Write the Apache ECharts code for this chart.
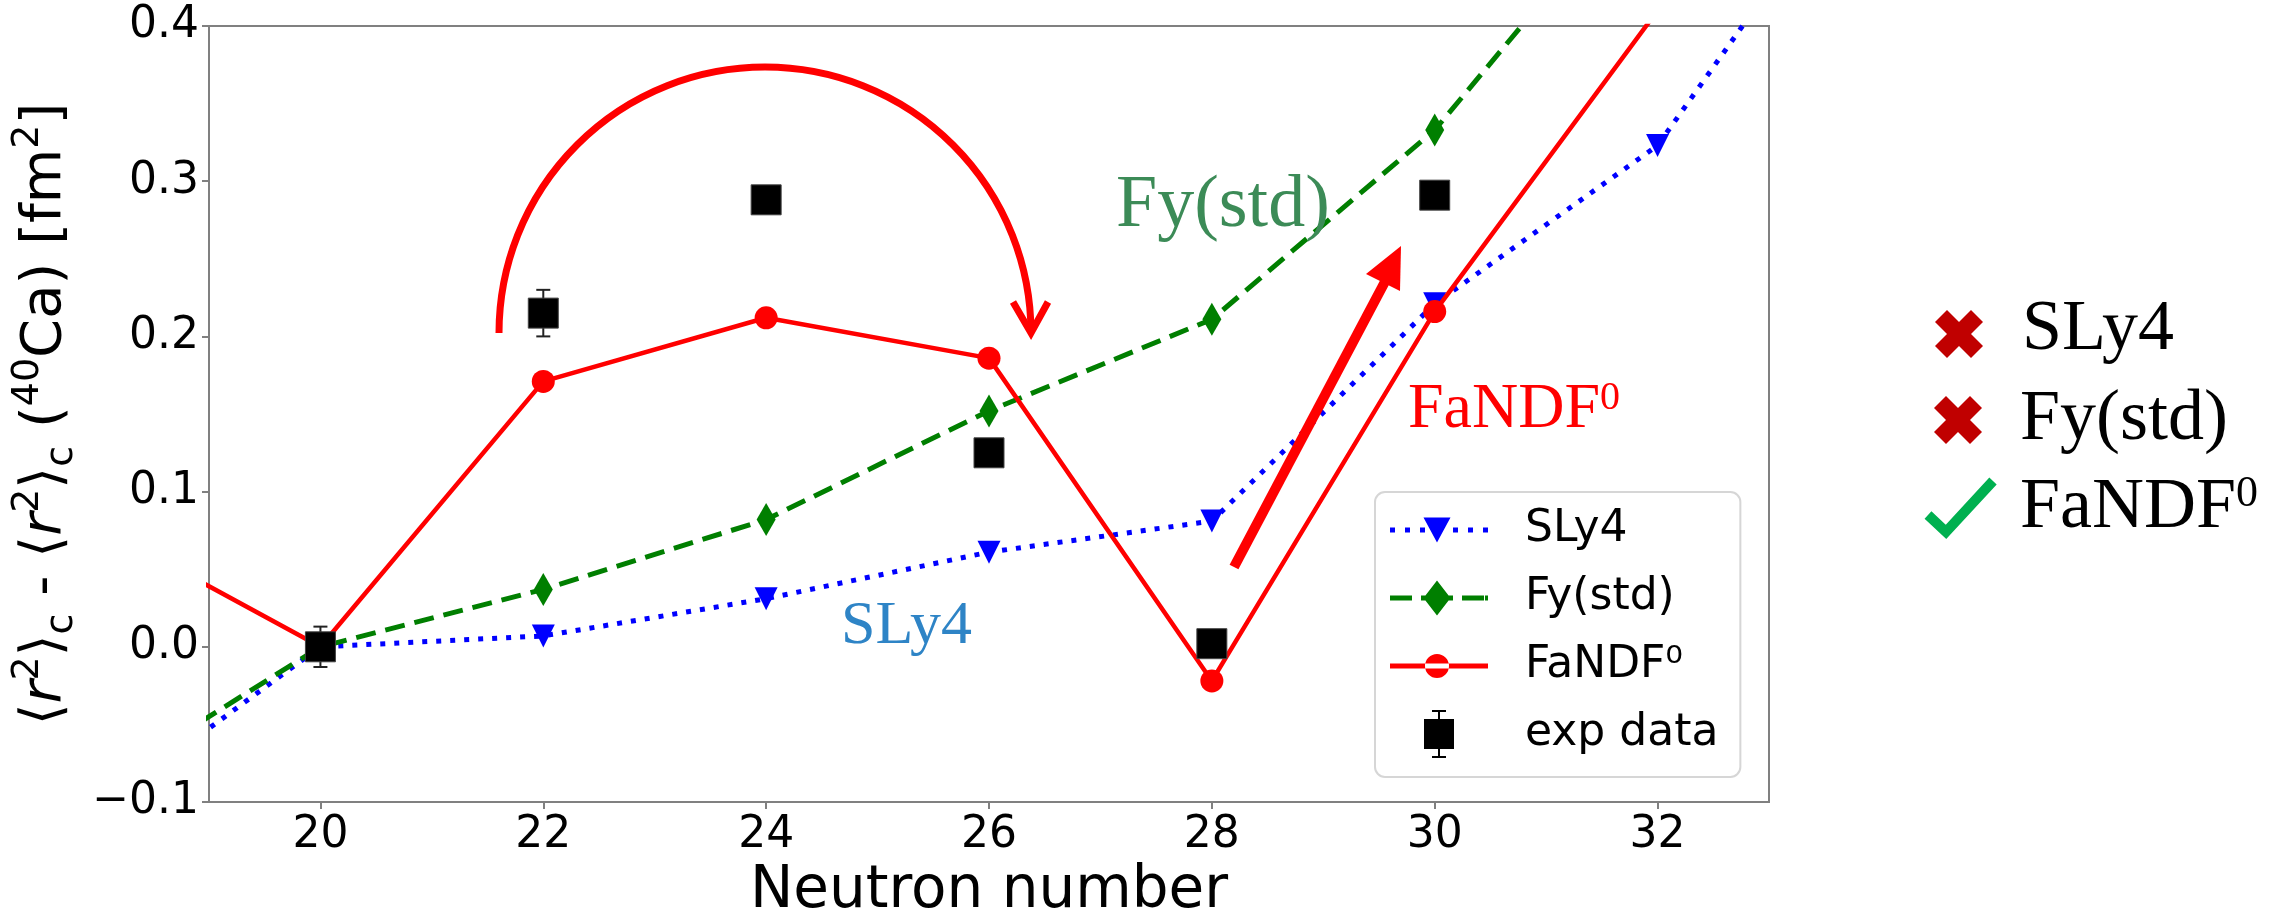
<!DOCTYPE html>
<html>
<head>
<meta charset="utf-8">
<script src="https://cdn.jsdelivr.net/npm/echarts@6/dist/echarts.min.js"></script>
<style>
html,body{margin:0;padding:0;background:#fff;}
#chart{width:2290px;height:912px;}
</style>
</head>
<body>
<div id="chart"></div>
<script>
// ---- data ----
const neutronModel = [18, 20, 22, 24, 26, 28, 30, 32, 34];
const sly4Values   = [-0.105, 0.0, 0.007, 0.031, 0.061, 0.081, 0.221, 0.323, 0.525];
const fyStdValues  = [-0.09, 0.0, 0.037, 0.082, 0.152, 0.211, 0.333, 0.505, 0.68];
const fandfValues  = [0.078, 0.0, 0.171, 0.212, 0.186, -0.022, 0.216, 0.41, 0.6];

const neutronExp = [20, 22, 24, 26, 28, 30];
const expValues  = [0.0, 0.215, 0.288, 0.125, 0.002, 0.291];
const expErrors  = [0.013, 0.015, 0.005, 0.005, 0.005, 0.005];

const xTickValues = [20, 22, 24, 26, 28, 30, 32];
const yTickValues = [-0.1, 0.0, 0.1, 0.2, 0.3, 0.4];

const seriesNames = ['SLy4', 'Fy(std)', 'FaNDF\u2070', 'exp data'];
const verdictNames = ['SLy4', 'Fy(std)', 'FaNDF'];

function pairs(xs, ys) { return xs.map((x, i) => [x, ys[i]]); }

const chart = echarts.init(document.getElementById('chart'), null, {renderer: 'canvas'});
const axisColor = '#808080';
const SANS = 'DejaVu Sans';
const SERIF = 'Liberation Serif';

// legend icons (line + marker), drawn in a 98-wide frame
const iconSLy4 = 'path://M0,21.5h5v5h-5z M15,21.5h5v5h-5z M30,21.5h5v5h-5z M63,21.5h5v5h-5z M78,21.5h5v5h-5z M93,21.5h5v5h-5z M33.5,11.5L60.5,11.5L47,36.5z';
const iconFy = 'path://M0,21.5h22v5h-22z M31,21.5h32v5h-32z M72,21.5h22v5h-22z M95,21.5h3v5h-3z M47,6.5L60.5,24L47,41.5L33.5,24z';
const iconFa = 'path://M0,21.5h98v5h-98z M35,24a12,12 0 1,0 24,0a12,12 0 1,0 -24,0z';
const iconExp = 'path://M0,9h30v30h-30z M14,0h2v48h-2z M8,0h14v2h-14z M8,46h14v2h-14z';

const option = {
  backgroundColor: '#ffffff',
  animation: false,
  grid: {left: 209, right: 521, top: 26, bottom: 110, containLabel: false, outerBoundsMode: 'none',
    show: true, borderColor: axisColor, borderWidth: 2},
  legend: {
    orient: 'vertical', left: 1375, top: 492,
    padding: [14, 22, 19, 15],
    itemWidth: 98, itemHeight: 48, itemGap: 20,
    symbolKeepAspect: true,
    borderColor: '#d6d6d6', borderWidth: 2, borderRadius: 10, backgroundColor: '#ffffff',
    itemStyle: {borderWidth: 0, opacity: 1},
    textStyle: {fontFamily: SANS, fontSize: 44, color: '#000', lineHeight: 48, padding: [0, 0, 0, 32]},
    data: [
      {name: seriesNames[0], icon: iconSLy4},
      {name: seriesNames[1], icon: iconFy},
      {name: seriesNames[2], icon: iconFa},
      {name: seriesNames[3], icon: iconExp}
    ]
  },
  xAxis: {
    type: 'value', min: 19, max: 33, interval: 1,
    name: 'Neutron number', nameLocation: 'middle', nameGap: 55,
    nameTextStyle: {fontFamily: SANS, fontSize: 58, color: '#000'},
    axisLine: {show: true, onZero: false, lineStyle: {color: axisColor, width: 2}},
    axisTick: {show: true, length: 7, lineStyle: {color: axisColor, width: 2}, customValues: xTickValues},
    axisLabel: {fontFamily: SANS, fontSize: 44, color: '#000', margin: 12, customValues: xTickValues,
      formatter: v => (xTickValues.indexOf(v) >= 0 ? String(v) : '')},
    splitLine: {show: false}
  },
  yAxis: {
    type: 'value', min: -0.1, max: 0.4, interval: 0.1,
    name: '{t|\u27e8}{i|r}{p|2}{t|\u27e9}{b|c}{t| - \u27e8}{i|r}{p|2}{t|\u27e9}{b|c}{t| (}{p|40}{t|Ca) [fm}{p|2}{t|]}',
    nameLocation: 'middle', nameGap: 121, nameRotate: 90,
    nameTextStyle: {
      fontFamily: SANS, fontSize: 56, color: '#000',
      rich: {
        t: {fontFamily: SANS, fontSize: 56, color: '#000', lineHeight: 72},
        i: {fontFamily: SANS, fontSize: 56, color: '#000', fontStyle: 'italic', lineHeight: 72},
        p: {fontFamily: SANS, fontSize: 38, color: '#000', verticalAlign: 'top', lineHeight: 38},
        b: {fontFamily: SANS, fontSize: 38, color: '#000', verticalAlign: 'bottom', lineHeight: 38}
      }
    },
    axisLine: {show: true, onZero: false, lineStyle: {color: axisColor, width: 2}},
    axisTick: {show: true, length: 7, lineStyle: {color: axisColor, width: 2}},
    axisLabel: {fontFamily: SANS, fontSize: 44, color: '#000', margin: 10,
      formatter: v => { const r = Math.round(v * 10) / 10; return r < 0 ? '\u2212' + Math.abs(r).toFixed(1) : r.toFixed(1); }},
    splitLine: {show: false}
  },
  series: [
    {
      name: seriesNames[0], type: 'line', data: pairs(neutronModel, sly4Values),
      color: '#0000ff', symbol: 'triangle', symbolRotate: 180, symbolSize: [23, 23],
      lineStyle: {color: '#0000ff', width: 5, type: [5, 9]},
      itemStyle: {color: '#0000ff', borderWidth: 0}, clip: true, z: 2
    },
    {
      name: seriesNames[1], type: 'line', data: pairs(neutronModel, fyStdValues),
      color: '#007f00', symbol: 'diamond', symbolSize: [19, 33],
      lineStyle: {color: '#007f00', width: 5, type: [20, 10]},
      itemStyle: {color: '#007f00', borderWidth: 0}, clip: true, z: 3
    },
    {
      name: seriesNames[2], type: 'line', data: pairs(neutronModel, fandfValues),
      color: '#ff0000', symbol: 'circle', symbolSize: 23,
      lineStyle: {color: '#ff0000', width: 4.5, type: 'solid'},
      itemStyle: {color: '#ff0000', borderWidth: 0}, clip: true, z: 4
    },
    {
      name: 'exp error', type: 'custom', z: 5,
      data: neutronExp.map((n, i) => [n, expValues[i], expErrors[i]]),
      renderItem: function (params, api) {
        const x = api.value(0), y = api.value(1), e = api.value(2);
        const top = api.coord([x, y + e]);
        const bot = api.coord([x, y - e]);
        const st = {stroke: '#222', lineWidth: 2};
        return {type: 'group', children: [
          {type: 'line', shape: {x1: top[0], y1: top[1], x2: bot[0], y2: bot[1]}, style: st},
          {type: 'line', shape: {x1: top[0] - 7, y1: top[1], x2: top[0] + 7, y2: top[1]}, style: st},
          {type: 'line', shape: {x1: bot[0] - 7, y1: bot[1], x2: bot[0] + 7, y2: bot[1]}, style: st}
        ]};
      }
    },
    {
      name: seriesNames[3], type: 'scatter', data: pairs(neutronExp, expValues),
      color: '#000000', symbol: 'rect', symbolSize: 30,
      itemStyle: {color: '#000000', borderColor: '#444', borderWidth: 1, opacity: 1}, z: 6
    }
  ],
  graphic: [
    // curved arrow
    {type: 'arc', z: 50, shape: {cx: 765, cy: 333, r: 266, startAngle: Math.PI, endAngle: 2 * Math.PI, clockwise: true},
      style: {stroke: '#ff0000', lineWidth: 7, fill: 'none'}},
    {type: 'polyline', z: 50, shape: {points: [[1013, 302], [1031, 333], [1048, 302]]},
      style: {stroke: '#ff0000', lineWidth: 7, fill: 'none', lineJoin: 'miter'}},
    // straight arrow
    {type: 'line', z: 50, shape: {x1: 1234, y1: 567, x2: 1388, y2: 276}, style: {stroke: '#ff0000', lineWidth: 10}},
    {type: 'polygon', z: 50, shape: {points: [[1401, 246], [1400, 291], [1366, 274]]}, style: {fill: '#ff0000'}},
    // in-plot labels
    {type: 'text', z: 50, left: 1116, top: 170, style: {text: 'Fy(std)', fontFamily: SERIF, fontSize: 74, fill: '#3c8b57'}},
    {type: 'text', z: 50, left: 841, top: 596, style: {text: 'SLy4', fontFamily: SERIF, fontSize: 62, fill: '#2e84c6'}},
    {type: 'text', z: 50, left: 1408, top: 378, style: {
      text: '{a|FaNDF}{s|0}', rich: {
        a: {fontFamily: SERIF, fontSize: 64, fill: '#ff0000', lineHeight: 64},
        s: {fontFamily: SERIF, fontSize: 40, fill: '#ff0000', verticalAlign: 'top', lineHeight: 40}
      }}},
    // verdict list on the right
    {type: 'line', z: 50, shape: {x1: 1941, y1: 316, x2: 1977, y2: 352}, style: {stroke: '#c00000', lineWidth: 17}},
    {type: 'line', z: 50, shape: {x1: 1977, y1: 316, x2: 1941, y2: 352}, style: {stroke: '#c00000', lineWidth: 17}},
    {type: 'line', z: 50, shape: {x1: 1940, y1: 402, x2: 1976, y2: 438}, style: {stroke: '#c00000', lineWidth: 17}},
    {type: 'line', z: 50, shape: {x1: 1976, y1: 402, x2: 1940, y2: 438}, style: {stroke: '#c00000', lineWidth: 17}},
    {type: 'polyline', z: 50, shape: {points: [[1928, 515], [1946, 532], [1993, 481]]},
      style: {stroke: '#00b050', lineWidth: 10, fill: 'none', lineJoin: 'miter'}},
    {type: 'text', z: 50, left: 2022, top: 294, style: {text: verdictNames[0], fontFamily: SERIF, fontSize: 72, fill: '#000'}},
    {type: 'text', z: 50, left: 2020, top: 384, style: {text: verdictNames[1], fontFamily: SERIF, fontSize: 72, fill: '#000'}},
    {type: 'text', z: 50, left: 2020, top: 472, style: {
      text: '{a|' + verdictNames[2] + '}{s|0}', rich: {
        a: {fontFamily: SERIF, fontSize: 72, fill: '#000', lineHeight: 72},
        s: {fontFamily: SERIF, fontSize: 44, fill: '#000', verticalAlign: 'top', lineHeight: 44}
      }}}
  ]
};
chart.setOption(option);
</script>
</body>
</html>
